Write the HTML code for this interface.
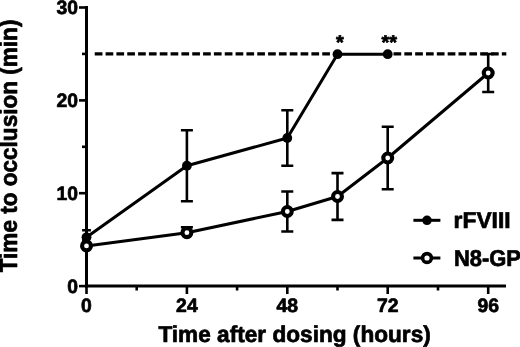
<!DOCTYPE html><html><head><meta charset="utf-8"><title>Time to occlusion</title>
<style>html,body{margin:0;padding:0;background:#fff;overflow:hidden}svg{display:block}text{font-family:"Liberation Sans",Arial,sans-serif;font-weight:bold;fill:#000;stroke:#000;stroke-width:.7px;stroke-linejoin:round}</style></head><body>
<svg width="520" height="347" viewBox="0 0 520 347">
<rect width="520" height="347" fill="#fff"/>
<g stroke="#000" stroke-width="3" fill="none" stroke-linecap="butt">
<path d="M86.5 6.0V287.6"/>
<path d="M85.0 286.1H506"/>
</g>
<g stroke="#000" stroke-width="2.6" fill="none">
<path d="M79 286.1H86.5"/>
<path d="M79 193.2H86.5"/>
<path d="M79 100.4H86.5"/>
<path d="M79 7.5H86.5"/>
<path d="M82 239.7H86.5"/>
<path d="M82 146.8H86.5"/>
<path d="M82 53.9H86.5"/>
<path d="M86.5 286.1V294"/>
<path d="M186.9 286.1V294"/>
<path d="M287.3 286.1V294"/>
<path d="M387.7 286.1V294"/>
<path d="M488.2 286.1V294"/>
<path d="M136.7 286.1V290.5"/>
<path d="M237.1 286.1V290.5"/>
<path d="M337.5 286.1V290.5"/>
<path d="M438.0 286.1V290.5"/>
</g>
<path d="M94.75 53.9H340M393.5 53.9H506.3" stroke="#000" stroke-width="3.2" stroke-dasharray="7.7 3.133" fill="none"/>
<text transform="translate(78.0 292.6) skewX(0.05)" font-size="19.4" text-anchor="end">0</text>
<text transform="translate(78.0 199.7) skewX(0.05)" font-size="19.4" text-anchor="end">10</text>
<text transform="translate(78.0 106.9) skewX(0.05)" font-size="19.4" text-anchor="end">20</text>
<text transform="translate(78.0 14.0) skewX(0.05)" font-size="19.4" text-anchor="end">30</text>
<text transform="translate(86.5 312.2) skewX(0.05)" font-size="19.4" text-anchor="middle">0</text>
<text transform="translate(186.9 312.2) skewX(0.05)" font-size="19.4" text-anchor="middle">24</text>
<text transform="translate(287.3 312.2) skewX(0.05)" font-size="19.4" text-anchor="middle">48</text>
<text transform="translate(387.7 312.2) skewX(0.05)" font-size="19.4" text-anchor="middle">72</text>
<text transform="translate(488.2 312.2) skewX(0.05)" font-size="19.4" text-anchor="middle">96</text>
<text transform="translate(158.4 342.2) skewX(0.05)" font-size="22.9" text-anchor="start" textLength="272.4" lengthAdjust="spacingAndGlyphs">Time after dosing (hours)</text>
<text transform="translate(17.1 272.3) rotate(-90)" font-size="24.6" text-anchor="start" textLength="252.7" lengthAdjust="spacingAndGlyphs">Time to occlusion (min)</text>
<g stroke="#000" stroke-width="2.6" fill="none">
<path d="M86.5 230.3V244.3M82.1 230.3h8.8M82.1 244.3h8.8"/>
<path d="M186.9 130.2V201.2M180.9 130.2h12.0M180.9 201.2h12.0"/>
<path d="M287.3 110.3V165.7M281.3 110.3h12.0M281.3 165.7h12.0"/>
</g>
<path d="M86.5 237.3 L186.9 165.7 L287.3 138.0 L337.5 54.2 L387.7 54.2" stroke="#000" stroke-width="3" fill="none" stroke-linejoin="round"/>
<circle cx="86.5" cy="237.3" r="4.9" fill="#000"/>
<circle cx="186.9" cy="165.7" r="4.9" fill="#000"/>
<circle cx="287.3" cy="138.0" r="4.9" fill="#000"/>
<circle cx="337.5" cy="54.2" r="4.9" fill="#000"/>
<circle cx="387.7" cy="54.2" r="4.9" fill="#000"/>
<g stroke="#000" stroke-width="2.6" fill="none">
<path d="M186.9 227.3V232.7M180.9 227.3h12.0"/>
<path d="M287.3 191.5V231.5M281.3 191.5h12.0M281.3 231.5h12.0"/>
<path d="M337.5 173.1V219.9M331.5 173.1h12.0M331.5 219.9h12.0"/>
<path d="M387.7 126.8V189.2M381.7 126.8h12.0M381.7 189.2h12.0"/>
<path d="M488.2 54.0V92.0M482.2 54.0h12.0M482.2 92.0h12.0"/>
</g>
<path d="M86.5 245.9 L186.9 232.7 L287.3 211.5 L337.5 196.5 L387.7 158.0 L488.2 73.0" stroke="#000" stroke-width="3" fill="none" stroke-linejoin="round"/>
<circle cx="86.5" cy="245.9" r="4.45" fill="#fff" stroke="#000" stroke-width="4.1"/>
<circle cx="186.9" cy="232.7" r="4.45" fill="#fff" stroke="#000" stroke-width="4.1"/>
<circle cx="287.3" cy="211.5" r="4.45" fill="#fff" stroke="#000" stroke-width="4.1"/>
<circle cx="337.5" cy="196.5" r="4.45" fill="#fff" stroke="#000" stroke-width="4.1"/>
<circle cx="387.7" cy="158.0" r="4.45" fill="#fff" stroke="#000" stroke-width="4.1"/>
<circle cx="488.2" cy="73.0" r="4.45" fill="#fff" stroke="#000" stroke-width="4.1"/>
<text transform="translate(339.8 49.2) skewX(0.05)" font-size="20" text-anchor="middle">*</text>
<text transform="translate(389.3 49.2) skewX(0.05)" font-size="20" text-anchor="middle">**</text>
<g stroke="#000" stroke-width="3" fill="none"><path d="M413.4 220.3H440.4"/><path d="M413.4 258H440.4"/></g>
<circle cx="427" cy="220.3" r="4.8" fill="#000"/>
<circle cx="427" cy="258" r="4.4" fill="#fff" stroke="#000" stroke-width="3.6"/>
<text transform="translate(453.6 228.2) skewX(0.05)" font-size="22.9" text-anchor="start" textLength="57" lengthAdjust="spacingAndGlyphs">rFVIII</text>
<text transform="translate(453.9 265.9) skewX(0.05)" font-size="22.9" text-anchor="start" textLength="67" lengthAdjust="spacingAndGlyphs">N8-GP</text>
</svg></body></html>
